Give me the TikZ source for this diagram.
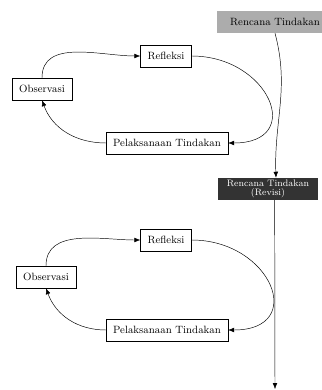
\documentclass[tikz,border=0pt]{standalone}
\usepackage{tikz}
\usetikzlibrary{positioning, arrows.meta}

\begin{document}
\begin{tikzpicture}[auto, font=\small,
        box/.style={draw, rectangle, minimum height=6.6mm, inner xsep=6pt},
        plan/.style={fill=gray!65, minimum width=3.5cm, minimum height=6.6mm},
        revisi/.style={fill=black!80, text=white, font=\footnotesize, align=center, inner sep=1pt, minimum width=3cm, minimum height=6.6mm},
        arr/.style={-{Latex[length=1.8mm, width=1.4mm]}}]
        \useasboundingbox (0,0) rectangle (9.63,-11.7);

        \node[plan] (plan) at (8.25,-0.66) {Rencana Tindakan};
        \node[revisi] (rev) at (8.04,-5.67) {Rencana Tindakan\\[-2pt](Revisi)};
        \coordinate (end) at (8.25,-11.67);

        % first cycle
        \node[box] (refl1) at (4.98,-1.68) {Refleksi};
        \node[box] (obs1) at (1.26,-2.67) {Observasi};
        \node[box] (pel1) at (5.01,-4.29) {Pelaksanaan Tindakan};

        % second cycle
        \node[box] (refl2) at (4.98,-7.2) {Refleksi};
        \node[box] (obs2) at (1.38,-8.31) {Observasi};
        \node[box] (pel2) at (5.01,-9.9) {Pelaksanaan Tindakan};

        \draw[arr] (obs1.north) to[out=90, in=180] (refl1.west);
        \draw[arr] (refl1.east) to[out=0, in=0, looseness=2.1] (pel1.east);
        \draw[arr] (pel1.west) to[out=180, in=-70] (obs1.south);

        \draw[arr] (obs2.north) to[out=90, in=180] (refl2.west);
        \draw[arr] (refl2.east) to[out=0, in=0, looseness=2.1] (pel2.east);
        \draw[arr] (pel2.west) to[out=180, in=-70] (obs2.south);

        \draw[arr] (plan.south) to[out=-75, in=92] ([xshift=0.24cm]rev.north);
        \draw[arr] ([xshift=0.2cm]rev.south) -- (end);
    \end{tikzpicture}
\end{document}
